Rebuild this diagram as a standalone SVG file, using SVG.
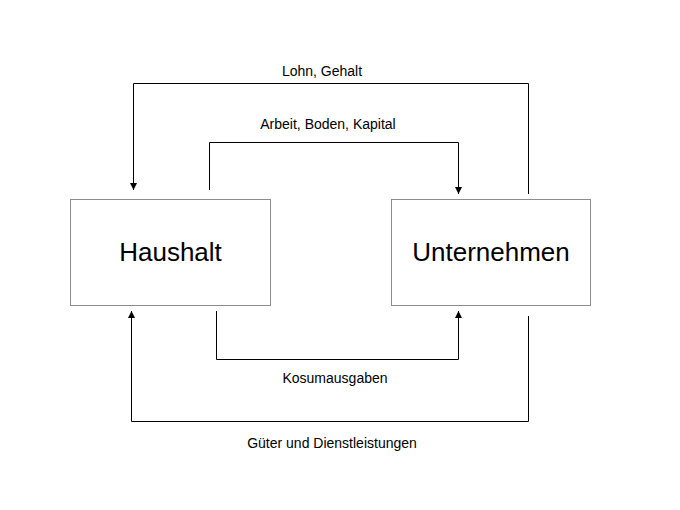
<svg xmlns="http://www.w3.org/2000/svg" width="680" height="510" viewBox="0 0 680 510">
<style>
.box{fill:#fff;stroke:#8c8c8c;stroke-width:1}
.big{font-family:"Liberation Sans",Arial,sans-serif;font-size:26px;fill:#000;text-anchor:middle}
.lbl{font-family:"Liberation Sans",Arial,sans-serif;font-size:14px;fill:#000;text-anchor:middle}
.ln{fill:none;stroke:#000;stroke-width:1;marker-end:url(#a)}
</style>
<defs><marker id="a" viewBox="0 0 10 10" refX="10" refY="5" markerWidth="7" markerHeight="10" markerUnits="userSpaceOnUse" orient="auto"><path d="M0,0L10,5L0,10z" fill="#000"/></marker></defs>
<rect width="680" height="510" fill="#fff"/>
<g id="haushalt"><rect class="box" x="70.5" y="199.5" width="200" height="106"/><text class="big" x="170.5" y="261">Haushalt</text></g>
<g id="unternehmen"><rect class="box" x="391.5" y="199.5" width="199" height="106"/><text class="big" x="491" y="261">Unternehmen</text></g>
<g id="connectors">
<path class="ln" d="M528.5,194V83.5H133.5V190"/>
<path class="ln" d="M209.5,190V142.5H458.5V194"/>
<path class="ln" d="M216.5,311V359.5H458.5V311"/>
<path class="ln" d="M528.5,316V421.5H131.5V311"/>
<text class="lbl" x="322" y="76">Lohn, Gehalt</text>
<text class="lbl" x="328" y="129">Arbeit, Boden, Kapital</text>
<text class="lbl" x="335" y="383">Kosumausgaben</text>
<text class="lbl" x="332" y="448">Güter und Dienstleistungen</text>
</g>
</svg>
